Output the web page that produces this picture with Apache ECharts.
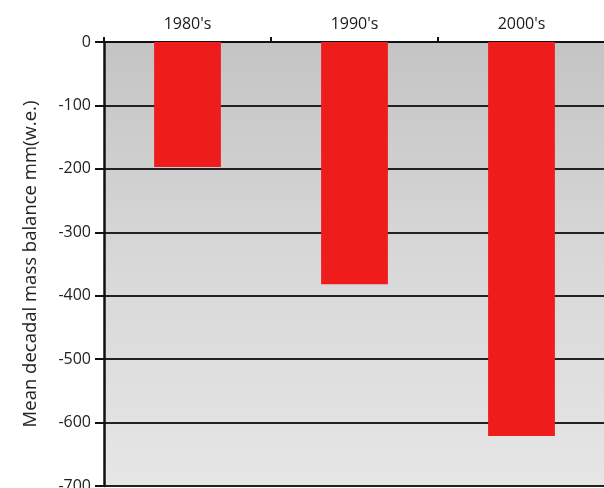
<!DOCTYPE html>
<html><head><meta charset="utf-8">
<script src="https://cdn.jsdelivr.net/npm/echarts@6/dist/echarts.min.js"></script>
<style>html,body{margin:0;padding:0;background:#fff}#c{width:604px;height:488px}</style>
</head><body><div id="c"></div>
<script>
const categories = ["1980's", "1990's", "2000's"];
const balance = [-197, -382, -621];
const yTicks = { min: -700, max: 0, interval: 100 };

const chart = echarts.init(document.getElementById('c'));
chart.setOption({
  animation: false,
  grid: {
    left: 104, right: -1, top: 42, bottom: 2,
    outerBoundsMode: 'none', containLabel: false,
    show: true, borderWidth: 0,
    backgroundColor: new echarts.graphic.LinearGradient(0, 0, 0, 1, [
      { offset: 0, color: '#c4c4c4' },
      { offset: 0.5, color: '#d8d8d8' },
      { offset: 1, color: '#e6e6e6' }
    ])
  },
  xAxis: {
    type: 'category', position: 'top', data: categories,
    axisLine: { lineStyle: { color: '#111', width: 2 } },
    axisTick: { show: true, length: 5, lineStyle: { color: '#111', width: 2 } },
    axisLabel: { color: '#1a1a1a', fontSize: 16, fontFamily: 'Open Sans', margin: 10 }
  },
  yAxis: {
    type: 'value', min: yTicks.min, max: yTicks.max, interval: yTicks.interval,
    name: 'Mean decadal mass balance mm(w.e.)', nameLocation: 'middle', nameGap: 64,
    nameTextStyle: { color: '#222', fontSize: 18.5, fontFamily: 'Open Sans' },
    axisLine: { show: true, lineStyle: { color: '#111', width: 2.5 } },
    axisTick: { show: true, length: 9, lineStyle: { color: '#111', width: 2 } },
    axisLabel: { color: '#222', fontSize: 16, fontFamily: 'Open Sans', margin: 13 },
    splitLine: { lineStyle: { color: '#222', width: 2 } }
  },
  series: [{
    type: 'bar', data: balance, barWidth: '40%',
    itemStyle: { color: '#ef1c1c' }
  }]
});
</script></body></html>
